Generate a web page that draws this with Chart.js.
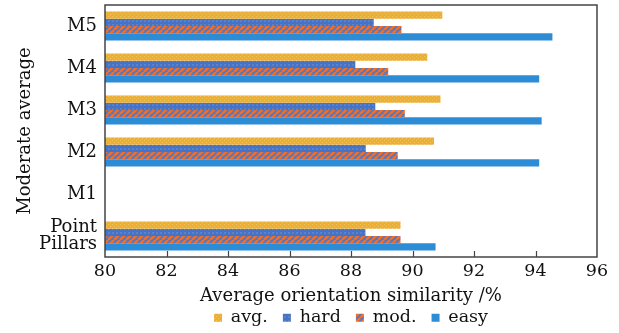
<!DOCTYPE html>
<html>
<head>
<meta charset="utf-8">
<script src="https://cdn.jsdelivr.net/npm/chart.js@4/dist/chart.umd.min.js"></script>
<style>
html,body{margin:0;padding:0;background:#fff;}
#wrap{width:619px;height:333px;}
</style>
</head>
<body>
<div id="wrap"><canvas id="c" width="619" height="333"></canvas></div>
<script>
const categories = ['M5', 'M4', 'M3', 'M2', 'M1', ['Point', 'Pillars']];
const seriesNames = ['avg.', 'hard', 'mod.', 'easy'];
const avgValues  = [90.97, 90.48, 90.91, 90.70, null, 89.61];
const hardValues = [88.74, 88.14, 88.79, 88.48, null, 88.47];
const modValues  = [89.64, 89.21, 89.75, 89.52, null, 89.61];
const easyValues = [94.55, 94.12, 94.20, 94.12, null, 90.75];
const xTicks = [80, 82, 84, 86, 88, 90, 92, 94, 96];

function makePattern(size, draw) {
  const c = document.createElement('canvas');
  c.width = size; c.height = size;
  const g = c.getContext('2d');
  draw(g, size);
  return g.createPattern(c, 'repeat');
}
const ctx = document.getElementById('c').getContext('2d');
const avgPat = makePattern(4, (g) => {
  g.fillStyle = '#EEAE30'; g.fillRect(0,0,4,4);
  g.fillStyle = '#F3C25A'; g.fillRect(0,0,1,1); g.fillRect(2,2,1,1);
});
const hardPat = makePattern(4, (g) => {
  g.fillStyle = '#4873C4'; g.fillRect(0,0,4,4);
  g.fillStyle = '#5782CC'; g.fillRect(0,0,2,2);
});
const modPat = makePattern(6, (g) => {
  g.fillStyle = '#5577C0'; g.fillRect(0,0,6,6);
  g.strokeStyle = '#EC7030'; g.lineWidth = 2.6;
  g.beginPath();
  for (let k = -6; k <= 12; k += 6) { g.moveTo(k, 6); g.lineTo(k + 6, 0); }
  g.stroke();
});
const easyColor = '#2C8CD6';

const FONT = "'DejaVu Serif', serif";

const boxPlugin = {
  id: 'boxPlugin',
  beforeLayout(chart) {
    const lg = chart.legend;
    if (lg && !lg._fitPatched) {
      const orig = lg.fit;
      lg.fit = function () { orig.call(this); this.height = 39; };
      lg._fitPatched = true;
    }
  },
  afterDraw(chart) {
    const a = chart.chartArea, g = chart.ctx, xs = chart.scales.x;
    g.save();
    g.strokeStyle = '#444'; g.lineWidth = 1.5;
    g.strokeRect(a.left, a.top, a.right - a.left, a.bottom - a.top);
    g.lineWidth = 1.2;
    g.beginPath();
    xTicks.forEach(v => {
      if (v === 80 || v === 96) return;
      const px = Math.round(xs.getPixelForValue(v)) + 0.5;
      g.moveTo(px, a.bottom); g.lineTo(px, a.bottom - 6);
    });
    g.stroke();
    g.restore();
  }
};

new Chart(ctx, {
  type: 'bar',
  data: {
    labels: categories,
    datasets: [
      { label: seriesNames[0], data: avgValues,  backgroundColor: avgPat },
      { label: seriesNames[1], data: hardValues, backgroundColor: hardPat },
      { label: seriesNames[2], data: modValues,  backgroundColor: modPat },
      { label: seriesNames[3], data: easyValues, backgroundColor: easyColor }
    ]
  },
  options: {
    indexAxis: 'y',
    responsive: false,
    animation: false,
    devicePixelRatio: 1,
    layout: { padding: { top: 5, right: 22, left: 0, bottom: 0 } },
    datasets: { bar: { barPercentage: 1.0, categoryPercentage: 0.69, base: 80 } },
    scales: {
      x: {
        min: 80, max: 96,
        afterBuildTicks(s) { s.ticks = xTicks.map(v => ({ value: v })); },
        grid: { display: false, drawTicks: false },
        border: { display: false },
        ticks: { color: '#111', font: { family: FONT, size: 17.5 }, padding: 4, maxRotation: 0 },
        title: { display: true, text: 'Average orientation similarity /%', color: '#111',
                 font: { family: FONT, size: 18 }, padding: { top: 0, bottom: -13 } },
        afterFit(s) { s.height = 37; }
      },
      y: {
        grid: { display: false, drawTicks: false },
        border: { display: false },
        ticks: { color: '#111', font: { family: FONT, size: 18, lineHeight: 0.95 }, padding: 8, autoSkip: false },
        title: { display: true, text: 'Moderate average', color: '#111',
                 font: { family: FONT, size: 18 }, padding: { top: 15, bottom: 0 } },
        afterFit(s) { s.width = 105; s.paddingTop = 0; s.paddingBottom = 0; }
      }
    },
    plugins: {
      legend: {
        position: 'bottom',
        fullSize: false,
        labels: { color: '#111', font: { family: FONT, size: 17.5 }, boxWidth: 8, boxHeight: 8, padding: 15 }
      },
      tooltip: { enabled: false }
    }
  },
  plugins: [boxPlugin]
});
</script>
</body>
</html>
